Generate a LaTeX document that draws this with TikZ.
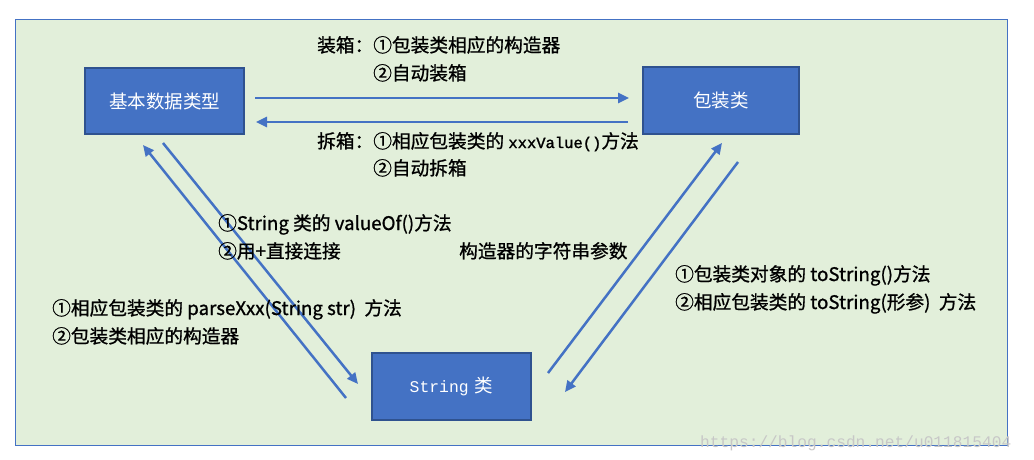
\documentclass[tikz,border=0pt]{standalone}
\usepackage{fontspec}
\setmainfont{Noto Sans CJK SC}[FakeBold=1]
\newfontfamily\plainfont{Noto Sans CJK SC}
\newfontfamily\monof{Liberation Mono}[FakeBold=1.5]
\newfontfamily\wmfont{Liberation Mono}
\usetikzlibrary{arrows.meta}
\definecolor{bgfill}{HTML}{E2EFDA}
\definecolor{boxblue}{HTML}{4472C4}
\definecolor{boxedge}{HTML}{2F528F}
\tikzset{
  box/.style={draw=boxedge, line width=2pt, fill=boxblue, text=white, inner sep=0pt,
    font=\plainfont\fontsize{18.5}{22}\selectfont},
  conn/.style={draw=boxblue, line width=2.5pt, -{Triangle[length=11pt,width=10pt]}},
  lbl/.style={anchor=base west, inner sep=0pt, text=black, font=\fontsize{18.7}{22}\selectfont},
  wm/.style={anchor=base west, inner sep=0pt, text=black!22, font=\wmfont\fontsize{16.2}{20}\selectfont}
}
\begin{document}
\begin{tikzpicture}[x=1pt,y=-1pt]
\useasboundingbox (0,0) rectangle (1034,460);
\fill[white] (0,0) rectangle (1034,460);
\draw[draw=boxblue, fill=bgfill, line width=1pt] (15,20) rectangle (1007,445);

\node[box, minimum width=159pt, minimum height=66pt] (basic) at (164.5,101) {基本数据类型};
\node[box, minimum width=156pt, minimum height=67pt] (wrap) at (721,100.5) {包装类};
\node[box, minimum width=159pt, minimum height=67pt] (str) at (451.5,386.5) {{\wmfont\fontsize{16.4}{20}\selectfont String}\hspace{6pt}类};

\coordinate (a1s) at (255,98);  \coordinate (a1e) at (629,98);
\coordinate (a2s) at (628,122); \coordinate (a2e) at (256,122);
\coordinate (a3s) at (163,143); \coordinate (a3e) at (358,384);
\coordinate (a4s) at (346,398); \coordinate (a4e) at (143,145);
\coordinate (a5s) at (548,373); \coordinate (a5e) at (722,143);
\coordinate (a6s) at (738,162); \coordinate (a6e) at (565,392);

\draw[conn] (a1s) -- (a1e);
\draw[conn] (a2s) -- (a2e);
\draw[conn] (a3s) -- (a3e);
\draw[conn] (a4s) -- (a4e);
\draw[conn] (a5s) -- (a5e);
\draw[conn] (a6s) -- (a6e);

\node[lbl] (t1) at (317,52) {装箱：①包装类相应的构造器};
\node[lbl] (t2) at (373,80) {②自动装箱};
\node[lbl] (t3) at (317,148) {拆箱：①相应包装类的 {\monof\fontsize{15.5}{20}\selectfont xxxValue()}方法};
\node[lbl] (t4) at (373,175) {②自动拆箱};
\node[lbl] (t5) at (218,230) {①String 类的 valueOf()方法};
\node[lbl] (t6) at (218,258) {②用+直接连接};
\node[lbl] (t7) at (459,258) {构造器的字符串参数};
\node[lbl] (t8) at (52,315) {①相应包装类的 parseXxx(String str)\ \ 方法};
\node[lbl] (t9) at (52,343) {②包装类相应的构造器};
\node[lbl] (t10) at (675,281) {①包装类对象的 toString()方法};
\node[lbl] (t11) at (675,309) {②相应包装类的 toString(形参)\ \ 方法};
\node[wm] (wmk) at (700,447) {https://blog.csdn.net/u011815404};
\end{tikzpicture}
\end{document}
